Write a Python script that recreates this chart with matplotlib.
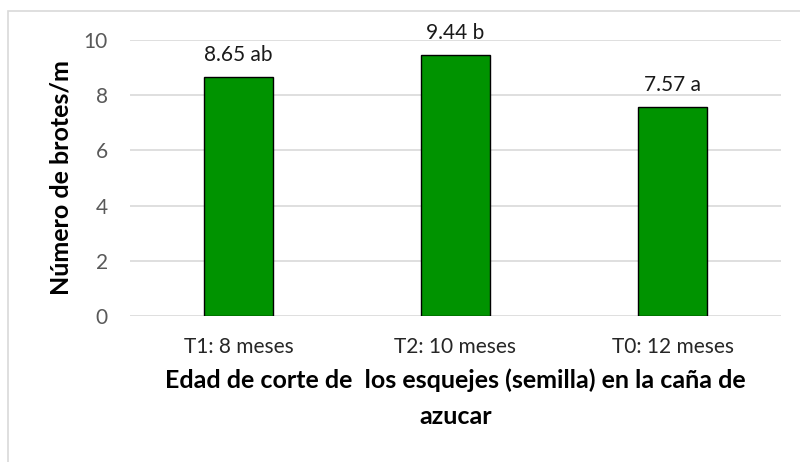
import matplotlib.pyplot as plt

plt.rcParams['font.family'] = ['Lato', 'DejaVu Sans']

categorias = ['T1: 8 meses', 'T2: 10 meses', 'T0: 12 meses']
brotes = [8.65, 9.44, 7.57]
letras = ['ab', 'b', 'a']

fig = plt.figure(figsize=(8, 4.62), dpi=100)
ax = fig.add_axes([130 / 800, 1 - 316 / 462, 651 / 800, 276 / 462])

# marco del gráfico
fig.patches.append(plt.Rectangle((8 / 800, -0.1), 1.2, 1 - 11 / 462 + 0.1,
                                 transform=fig.transFigure, fill=False,
                                 edgecolor='#d9d9d9', linewidth=1.2))

x = range(len(categorias))
ax.bar(x, brotes, width=0.318, color='#009300', edgecolor='black', linewidth=1, zorder=3)
for i, (v, l) in enumerate(zip(brotes, letras)):
    ax.text(i, v + 0.45, f'{v:.2f} {l}', ha='center', va='bottom', fontsize=15, color='#1a1a1a')

ax.set_xlim(-0.5, 2.5)
ax.set_ylim(0, 10)
ax.set_yticks(range(0, 11, 2))
ax.set_xticks(list(x))
ax.set_xticklabels(categorias)
ax.grid(axis='y', color='#d9d9d9', linewidth=1.2, zorder=0)
for s in ['top', 'right', 'left', 'bottom']:
    ax.spines[s].set_visible(False)
ax.tick_params(length=0, labelsize=15, labelcolor='#595959', pad=16)
ax.tick_params(axis='x', labelcolor='#262626', pad=15)

ax.set_ylabel('Número de brotes/m', fontsize=18, fontweight='bold')
ax.yaxis.set_label_coords(-0.089, 0.5)
ax.set_xlabel('Edad de corte de  los esquejes (semilla) en la caña de\nazucar',
              fontsize=18, fontweight='bold', labelpad=8, linespacing=1.7)

fig.savefig('out.png')
